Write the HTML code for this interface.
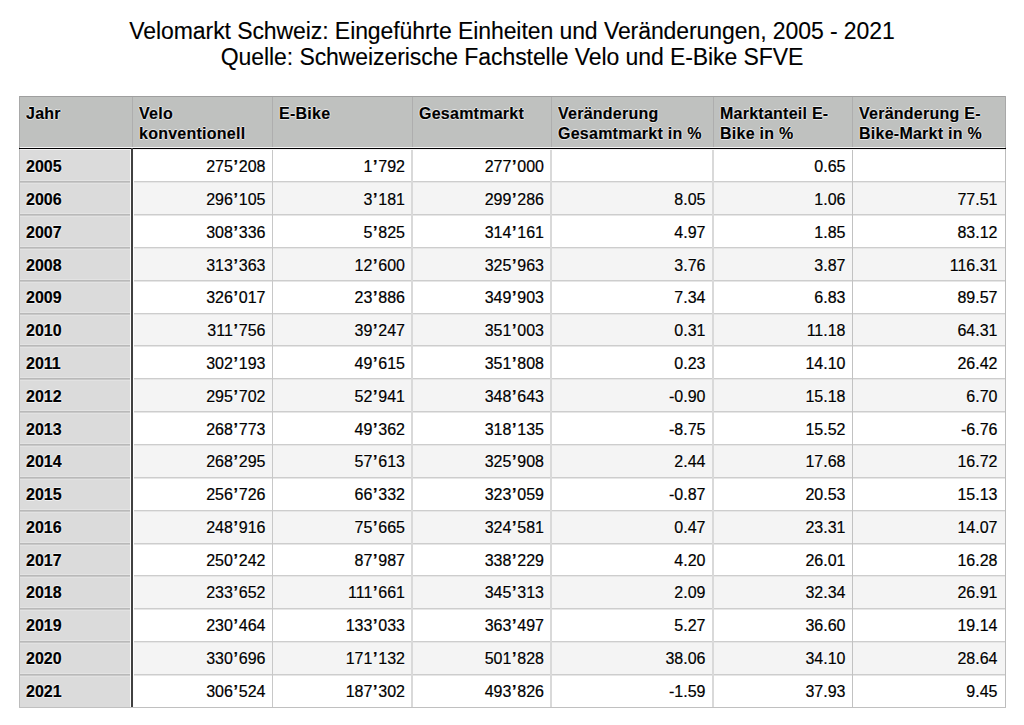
<!DOCTYPE html><html><head><meta charset="utf-8"><title>Velomarkt Schweiz</title><style>
html,body{margin:0;padding:0;background:#fff;}
body{width:1024px;height:725px;overflow:hidden;position:relative;font-family:"Liberation Sans",Arial,Helvetica,sans-serif;color:#000;}
.a{position:absolute;}
.t{position:absolute;white-space:nowrap;font-size:16px;-webkit-text-stroke:0.2px #000;text-shadow:1px 0 0 rgba(255,255,255,.6),-1px 0 0 rgba(255,255,255,.6),0 1px 0 rgba(255,255,255,.6),0 -1px 0 rgba(255,255,255,.6);}
.r{text-align:right;}
.b{font-weight:bold;}
.h{letter-spacing:0.25px;}
.q{margin:0 0.75px;font-weight:bold;}
.title{position:absolute;left:0;width:1024px;text-align:center;font-size:23px;line-height:25px;color:#000;-webkit-text-stroke:0.12px #000;white-space:nowrap;letter-spacing:-0.08px;}
</style></head><body>
<div class="title" style="top:19px">Velomarkt Schweiz: Eingeführte Einheiten und Veränderungen, 2005 - 2021</div>
<div class="title" style="top:45px">Quelle: Schweizerische Fachstelle Velo und E-Bike SFVE</div>
<div class="a" style="left:19px;top:96px;width:987px;height:52px;background:#bfc1bf"></div>
<div class="a" style="left:132px;top:181px;width:873px;height:33px;background:#f4f4f4"></div>
<div class="a" style="left:132px;top:247px;width:873px;height:33px;background:#f4f4f4"></div>
<div class="a" style="left:132px;top:313px;width:873px;height:32px;background:#f4f4f4"></div>
<div class="a" style="left:132px;top:378px;width:873px;height:33px;background:#f4f4f4"></div>
<div class="a" style="left:132px;top:444px;width:873px;height:33px;background:#f4f4f4"></div>
<div class="a" style="left:132px;top:510px;width:873px;height:33px;background:#f4f4f4"></div>
<div class="a" style="left:132px;top:575px;width:873px;height:33px;background:#f4f4f4"></div>
<div class="a" style="left:132px;top:641px;width:873px;height:33px;background:#f4f4f4"></div>
<div class="a" style="left:19px;top:148px;width:113px;height:559px;background:#dbdbdb"></div>
<div class="a" style="left:132px;top:181px;width:873px;height:1px;background:#cdcdcd"></div>
<div class="a" style="left:132px;top:182px;width:873px;height:1px;background:#e6e6e6"></div>
<div class="a" style="left:19px;top:180px;width:113px;height:1px;background:#e3e3e3"></div>
<div class="a" style="left:19px;top:183px;width:113px;height:1px;background:#e2e2e2"></div>
<div class="a" style="left:19px;top:181px;width:113px;height:1px;background:#b9b9b9"></div>
<div class="a" style="left:19px;top:182px;width:113px;height:1px;background:#c8c8c8"></div>
<div class="a" style="left:132px;top:214px;width:873px;height:1px;background:#cdcdcd"></div>
<div class="a" style="left:132px;top:215px;width:873px;height:1px;background:#e6e6e6"></div>
<div class="a" style="left:19px;top:213px;width:113px;height:1px;background:#e3e3e3"></div>
<div class="a" style="left:19px;top:216px;width:113px;height:1px;background:#e2e2e2"></div>
<div class="a" style="left:19px;top:214px;width:113px;height:1px;background:#b9b9b9"></div>
<div class="a" style="left:19px;top:215px;width:113px;height:1px;background:#c8c8c8"></div>
<div class="a" style="left:132px;top:247px;width:873px;height:1px;background:#cdcdcd"></div>
<div class="a" style="left:132px;top:248px;width:873px;height:1px;background:#e6e6e6"></div>
<div class="a" style="left:19px;top:246px;width:113px;height:1px;background:#e3e3e3"></div>
<div class="a" style="left:19px;top:249px;width:113px;height:1px;background:#e2e2e2"></div>
<div class="a" style="left:19px;top:247px;width:113px;height:1px;background:#b9b9b9"></div>
<div class="a" style="left:19px;top:248px;width:113px;height:1px;background:#c8c8c8"></div>
<div class="a" style="left:132px;top:280px;width:873px;height:1px;background:#cdcdcd"></div>
<div class="a" style="left:132px;top:281px;width:873px;height:1px;background:#e6e6e6"></div>
<div class="a" style="left:19px;top:279px;width:113px;height:1px;background:#e3e3e3"></div>
<div class="a" style="left:19px;top:282px;width:113px;height:1px;background:#e2e2e2"></div>
<div class="a" style="left:19px;top:280px;width:113px;height:1px;background:#b9b9b9"></div>
<div class="a" style="left:19px;top:281px;width:113px;height:1px;background:#c8c8c8"></div>
<div class="a" style="left:132px;top:313px;width:873px;height:1px;background:#cdcdcd"></div>
<div class="a" style="left:132px;top:314px;width:873px;height:1px;background:#e6e6e6"></div>
<div class="a" style="left:19px;top:312px;width:113px;height:1px;background:#e3e3e3"></div>
<div class="a" style="left:19px;top:315px;width:113px;height:1px;background:#e2e2e2"></div>
<div class="a" style="left:19px;top:313px;width:113px;height:1px;background:#b9b9b9"></div>
<div class="a" style="left:19px;top:314px;width:113px;height:1px;background:#c8c8c8"></div>
<div class="a" style="left:132px;top:345px;width:873px;height:1px;background:#cdcdcd"></div>
<div class="a" style="left:132px;top:346px;width:873px;height:1px;background:#e6e6e6"></div>
<div class="a" style="left:19px;top:344px;width:113px;height:1px;background:#e3e3e3"></div>
<div class="a" style="left:19px;top:347px;width:113px;height:1px;background:#e2e2e2"></div>
<div class="a" style="left:19px;top:345px;width:113px;height:1px;background:#b9b9b9"></div>
<div class="a" style="left:19px;top:346px;width:113px;height:1px;background:#c8c8c8"></div>
<div class="a" style="left:132px;top:378px;width:873px;height:1px;background:#cdcdcd"></div>
<div class="a" style="left:132px;top:379px;width:873px;height:1px;background:#e6e6e6"></div>
<div class="a" style="left:19px;top:377px;width:113px;height:1px;background:#e3e3e3"></div>
<div class="a" style="left:19px;top:380px;width:113px;height:1px;background:#e2e2e2"></div>
<div class="a" style="left:19px;top:378px;width:113px;height:1px;background:#b9b9b9"></div>
<div class="a" style="left:19px;top:379px;width:113px;height:1px;background:#c8c8c8"></div>
<div class="a" style="left:132px;top:411px;width:873px;height:1px;background:#cdcdcd"></div>
<div class="a" style="left:132px;top:412px;width:873px;height:1px;background:#e6e6e6"></div>
<div class="a" style="left:19px;top:410px;width:113px;height:1px;background:#e3e3e3"></div>
<div class="a" style="left:19px;top:413px;width:113px;height:1px;background:#e2e2e2"></div>
<div class="a" style="left:19px;top:411px;width:113px;height:1px;background:#b9b9b9"></div>
<div class="a" style="left:19px;top:412px;width:113px;height:1px;background:#c8c8c8"></div>
<div class="a" style="left:132px;top:444px;width:873px;height:1px;background:#cdcdcd"></div>
<div class="a" style="left:132px;top:445px;width:873px;height:1px;background:#e6e6e6"></div>
<div class="a" style="left:19px;top:443px;width:113px;height:1px;background:#e3e3e3"></div>
<div class="a" style="left:19px;top:446px;width:113px;height:1px;background:#e2e2e2"></div>
<div class="a" style="left:19px;top:444px;width:113px;height:1px;background:#b9b9b9"></div>
<div class="a" style="left:19px;top:445px;width:113px;height:1px;background:#c8c8c8"></div>
<div class="a" style="left:132px;top:477px;width:873px;height:1px;background:#cdcdcd"></div>
<div class="a" style="left:132px;top:478px;width:873px;height:1px;background:#e6e6e6"></div>
<div class="a" style="left:19px;top:476px;width:113px;height:1px;background:#e3e3e3"></div>
<div class="a" style="left:19px;top:479px;width:113px;height:1px;background:#e2e2e2"></div>
<div class="a" style="left:19px;top:477px;width:113px;height:1px;background:#b9b9b9"></div>
<div class="a" style="left:19px;top:478px;width:113px;height:1px;background:#c8c8c8"></div>
<div class="a" style="left:132px;top:510px;width:873px;height:1px;background:#cdcdcd"></div>
<div class="a" style="left:132px;top:511px;width:873px;height:1px;background:#e6e6e6"></div>
<div class="a" style="left:19px;top:509px;width:113px;height:1px;background:#e3e3e3"></div>
<div class="a" style="left:19px;top:512px;width:113px;height:1px;background:#e2e2e2"></div>
<div class="a" style="left:19px;top:510px;width:113px;height:1px;background:#b9b9b9"></div>
<div class="a" style="left:19px;top:511px;width:113px;height:1px;background:#c8c8c8"></div>
<div class="a" style="left:132px;top:543px;width:873px;height:1px;background:#cdcdcd"></div>
<div class="a" style="left:132px;top:544px;width:873px;height:1px;background:#e6e6e6"></div>
<div class="a" style="left:19px;top:542px;width:113px;height:1px;background:#e3e3e3"></div>
<div class="a" style="left:19px;top:545px;width:113px;height:1px;background:#e2e2e2"></div>
<div class="a" style="left:19px;top:543px;width:113px;height:1px;background:#b9b9b9"></div>
<div class="a" style="left:19px;top:544px;width:113px;height:1px;background:#c8c8c8"></div>
<div class="a" style="left:132px;top:575px;width:873px;height:1px;background:#cdcdcd"></div>
<div class="a" style="left:132px;top:576px;width:873px;height:1px;background:#e6e6e6"></div>
<div class="a" style="left:19px;top:574px;width:113px;height:1px;background:#e3e3e3"></div>
<div class="a" style="left:19px;top:577px;width:113px;height:1px;background:#e2e2e2"></div>
<div class="a" style="left:19px;top:575px;width:113px;height:1px;background:#b9b9b9"></div>
<div class="a" style="left:19px;top:576px;width:113px;height:1px;background:#c8c8c8"></div>
<div class="a" style="left:132px;top:608px;width:873px;height:1px;background:#cdcdcd"></div>
<div class="a" style="left:132px;top:609px;width:873px;height:1px;background:#e6e6e6"></div>
<div class="a" style="left:19px;top:607px;width:113px;height:1px;background:#e3e3e3"></div>
<div class="a" style="left:19px;top:610px;width:113px;height:1px;background:#e2e2e2"></div>
<div class="a" style="left:19px;top:608px;width:113px;height:1px;background:#b9b9b9"></div>
<div class="a" style="left:19px;top:609px;width:113px;height:1px;background:#c8c8c8"></div>
<div class="a" style="left:132px;top:641px;width:873px;height:1px;background:#cdcdcd"></div>
<div class="a" style="left:132px;top:642px;width:873px;height:1px;background:#e6e6e6"></div>
<div class="a" style="left:19px;top:640px;width:113px;height:1px;background:#e3e3e3"></div>
<div class="a" style="left:19px;top:643px;width:113px;height:1px;background:#e2e2e2"></div>
<div class="a" style="left:19px;top:641px;width:113px;height:1px;background:#b9b9b9"></div>
<div class="a" style="left:19px;top:642px;width:113px;height:1px;background:#c8c8c8"></div>
<div class="a" style="left:132px;top:674px;width:873px;height:1px;background:#cdcdcd"></div>
<div class="a" style="left:132px;top:675px;width:873px;height:1px;background:#e6e6e6"></div>
<div class="a" style="left:19px;top:673px;width:113px;height:1px;background:#e3e3e3"></div>
<div class="a" style="left:19px;top:676px;width:113px;height:1px;background:#e2e2e2"></div>
<div class="a" style="left:19px;top:674px;width:113px;height:1px;background:#b9b9b9"></div>
<div class="a" style="left:19px;top:675px;width:113px;height:1px;background:#c8c8c8"></div>
<div class="a" style="left:272px;top:148px;width:1px;height:559px;background:#c8c8c8"></div>
<div class="a" style="left:411px;top:148px;width:2px;height:559px;background:#d9d9d9"></div>
<div class="a" style="left:550px;top:148px;width:2px;height:559px;background:#d9d9d9"></div>
<div class="a" style="left:712px;top:148px;width:2px;height:559px;background:#d9d9d9"></div>
<div class="a" style="left:852px;top:148px;width:1px;height:559px;background:#c2c2c2"></div>
<div class="a" style="left:132px;top:96px;width:1px;height:52px;background:#aeaeae"></div>
<div class="a" style="left:272px;top:96px;width:1px;height:52px;background:#aeaeae"></div>
<div class="a" style="left:412px;top:96px;width:1px;height:52px;background:#aeaeae"></div>
<div class="a" style="left:551px;top:96px;width:1px;height:52px;background:#aeaeae"></div>
<div class="a" style="left:713px;top:96px;width:1px;height:52px;background:#aeaeae"></div>
<div class="a" style="left:852px;top:96px;width:1px;height:52px;background:#aeaeae"></div>
<div class="a" style="left:19px;top:96px;width:987px;height:1px;background:#9f9f9f"></div>
<div class="a" style="left:19px;top:707px;width:987px;height:1px;background:#c0c0c0"></div>
<div class="a" style="left:19px;top:96px;width:1px;height:52px;background:#a8a8a8"></div>
<div class="a" style="left:19px;top:148px;width:1px;height:559px;background:#bcbcbc"></div>
<div class="a" style="left:1005px;top:96px;width:1px;height:52px;background:#a8a8a8"></div>
<div class="a" style="left:1005px;top:148px;width:1px;height:559px;background:#bcbcbc"></div>
<div class="a" style="left:20px;top:147px;width:985px;height:1px;background:#f6f6f6"></div>
<div class="a" style="left:19px;top:148px;width:987px;height:1px;background:#000"></div>
<div class="a" style="left:20px;top:149px;width:985px;height:1px;background:#f4f4f4"></div>
<div class="a" style="left:130px;top:150px;width:1px;height:557px;background:#fafafa"></div>
<div class="a" style="left:131px;top:148px;width:2px;height:559px;background:#404040"></div>
<div class="a" style="left:133px;top:150px;width:1px;height:557px;background:#fdfdfd"></div>
<div class="t b h" style="left:26px;top:104px;line-height:19.5px">Jahr</div>
<div class="t b h" style="left:139px;top:104px;line-height:19.5px">Velo<br>konventionell</div>
<div class="t b h" style="left:279px;top:104px;line-height:19.5px">E-Bike</div>
<div class="t b h" style="left:419px;top:104px;line-height:19.5px">Gesamtmarkt</div>
<div class="t b h" style="left:558px;top:104px;line-height:19.5px">Veränderung<br>Gesamtmarkt in %</div>
<div class="t b h" style="left:720px;top:104px;line-height:19.5px">Marktanteil E-<br>Bike in %</div>
<div class="t b h" style="left:859px;top:104px;line-height:19.5px">Veränderung E-<br>Bike-Markt in %</div>
<div class="t b" style="left:26px;top:151px;line-height:32px">2005</div>
<div class="t r" style="right:758.5px;top:151px;line-height:32px">275<span class="q">’</span>208</div>
<div class="t r" style="right:619px;top:151px;line-height:32px">1<span class="q">’</span>792</div>
<div class="t r" style="right:480px;top:151px;line-height:32px">277<span class="q">’</span>000</div>
<div class="t r" style="right:178.5px;top:151px;line-height:32px">0.65</div>
<div class="t b" style="left:26px;top:184px;line-height:32px">2006</div>
<div class="t r" style="right:758.5px;top:184px;line-height:32px">296<span class="q">’</span>105</div>
<div class="t r" style="right:619px;top:184px;line-height:32px">3<span class="q">’</span>181</div>
<div class="t r" style="right:480px;top:184px;line-height:32px">299<span class="q">’</span>286</div>
<div class="t r" style="right:318.5px;top:184px;line-height:32px">8.05</div>
<div class="t r" style="right:178.5px;top:184px;line-height:32px">1.06</div>
<div class="t r" style="right:26.5px;top:184px;line-height:32px">77.51</div>
<div class="t b" style="left:26px;top:217px;line-height:32px">2007</div>
<div class="t r" style="right:758.5px;top:217px;line-height:32px">308<span class="q">’</span>336</div>
<div class="t r" style="right:619px;top:217px;line-height:32px">5<span class="q">’</span>825</div>
<div class="t r" style="right:480px;top:217px;line-height:32px">314<span class="q">’</span>161</div>
<div class="t r" style="right:318.5px;top:217px;line-height:32px">4.97</div>
<div class="t r" style="right:178.5px;top:217px;line-height:32px">1.85</div>
<div class="t r" style="right:26.5px;top:217px;line-height:32px">83.12</div>
<div class="t b" style="left:26px;top:250px;line-height:32px">2008</div>
<div class="t r" style="right:758.5px;top:250px;line-height:32px">313<span class="q">’</span>363</div>
<div class="t r" style="right:619px;top:250px;line-height:32px">12<span class="q">’</span>600</div>
<div class="t r" style="right:480px;top:250px;line-height:32px">325<span class="q">’</span>963</div>
<div class="t r" style="right:318.5px;top:250px;line-height:32px">3.76</div>
<div class="t r" style="right:178.5px;top:250px;line-height:32px">3.87</div>
<div class="t r" style="right:26.5px;top:250px;line-height:32px">116.31</div>
<div class="t b" style="left:26px;top:282px;line-height:32px">2009</div>
<div class="t r" style="right:758.5px;top:282px;line-height:32px">326<span class="q">’</span>017</div>
<div class="t r" style="right:619px;top:282px;line-height:32px">23<span class="q">’</span>886</div>
<div class="t r" style="right:480px;top:282px;line-height:32px">349<span class="q">’</span>903</div>
<div class="t r" style="right:318.5px;top:282px;line-height:32px">7.34</div>
<div class="t r" style="right:178.5px;top:282px;line-height:32px">6.83</div>
<div class="t r" style="right:26.5px;top:282px;line-height:32px">89.57</div>
<div class="t b" style="left:26px;top:315px;line-height:32px">2010</div>
<div class="t r" style="right:758.5px;top:315px;line-height:32px">311<span class="q">’</span>756</div>
<div class="t r" style="right:619px;top:315px;line-height:32px">39<span class="q">’</span>247</div>
<div class="t r" style="right:480px;top:315px;line-height:32px">351<span class="q">’</span>003</div>
<div class="t r" style="right:318.5px;top:315px;line-height:32px">0.31</div>
<div class="t r" style="right:178.5px;top:315px;line-height:32px">11.18</div>
<div class="t r" style="right:26.5px;top:315px;line-height:32px">64.31</div>
<div class="t b" style="left:26px;top:348px;line-height:32px">2011</div>
<div class="t r" style="right:758.5px;top:348px;line-height:32px">302<span class="q">’</span>193</div>
<div class="t r" style="right:619px;top:348px;line-height:32px">49<span class="q">’</span>615</div>
<div class="t r" style="right:480px;top:348px;line-height:32px">351<span class="q">’</span>808</div>
<div class="t r" style="right:318.5px;top:348px;line-height:32px">0.23</div>
<div class="t r" style="right:178.5px;top:348px;line-height:32px">14.10</div>
<div class="t r" style="right:26.5px;top:348px;line-height:32px">26.42</div>
<div class="t b" style="left:26px;top:381px;line-height:32px">2012</div>
<div class="t r" style="right:758.5px;top:381px;line-height:32px">295<span class="q">’</span>702</div>
<div class="t r" style="right:619px;top:381px;line-height:32px">52<span class="q">’</span>941</div>
<div class="t r" style="right:480px;top:381px;line-height:32px">348<span class="q">’</span>643</div>
<div class="t r" style="right:318.5px;top:381px;line-height:32px">-0.90</div>
<div class="t r" style="right:178.5px;top:381px;line-height:32px">15.18</div>
<div class="t r" style="right:26.5px;top:381px;line-height:32px">6.70</div>
<div class="t b" style="left:26px;top:414px;line-height:32px">2013</div>
<div class="t r" style="right:758.5px;top:414px;line-height:32px">268<span class="q">’</span>773</div>
<div class="t r" style="right:619px;top:414px;line-height:32px">49<span class="q">’</span>362</div>
<div class="t r" style="right:480px;top:414px;line-height:32px">318<span class="q">’</span>135</div>
<div class="t r" style="right:318.5px;top:414px;line-height:32px">-8.75</div>
<div class="t r" style="right:178.5px;top:414px;line-height:32px">15.52</div>
<div class="t r" style="right:26.5px;top:414px;line-height:32px">-6.76</div>
<div class="t b" style="left:26px;top:446px;line-height:32px">2014</div>
<div class="t r" style="right:758.5px;top:446px;line-height:32px">268<span class="q">’</span>295</div>
<div class="t r" style="right:619px;top:446px;line-height:32px">57<span class="q">’</span>613</div>
<div class="t r" style="right:480px;top:446px;line-height:32px">325<span class="q">’</span>908</div>
<div class="t r" style="right:318.5px;top:446px;line-height:32px">2.44</div>
<div class="t r" style="right:178.5px;top:446px;line-height:32px">17.68</div>
<div class="t r" style="right:26.5px;top:446px;line-height:32px">16.72</div>
<div class="t b" style="left:26px;top:479px;line-height:32px">2015</div>
<div class="t r" style="right:758.5px;top:479px;line-height:32px">256<span class="q">’</span>726</div>
<div class="t r" style="right:619px;top:479px;line-height:32px">66<span class="q">’</span>332</div>
<div class="t r" style="right:480px;top:479px;line-height:32px">323<span class="q">’</span>059</div>
<div class="t r" style="right:318.5px;top:479px;line-height:32px">-0.87</div>
<div class="t r" style="right:178.5px;top:479px;line-height:32px">20.53</div>
<div class="t r" style="right:26.5px;top:479px;line-height:32px">15.13</div>
<div class="t b" style="left:26px;top:512px;line-height:32px">2016</div>
<div class="t r" style="right:758.5px;top:512px;line-height:32px">248<span class="q">’</span>916</div>
<div class="t r" style="right:619px;top:512px;line-height:32px">75<span class="q">’</span>665</div>
<div class="t r" style="right:480px;top:512px;line-height:32px">324<span class="q">’</span>581</div>
<div class="t r" style="right:318.5px;top:512px;line-height:32px">0.47</div>
<div class="t r" style="right:178.5px;top:512px;line-height:32px">23.31</div>
<div class="t r" style="right:26.5px;top:512px;line-height:32px">14.07</div>
<div class="t b" style="left:26px;top:545px;line-height:32px">2017</div>
<div class="t r" style="right:758.5px;top:545px;line-height:32px">250<span class="q">’</span>242</div>
<div class="t r" style="right:619px;top:545px;line-height:32px">87<span class="q">’</span>987</div>
<div class="t r" style="right:480px;top:545px;line-height:32px">338<span class="q">’</span>229</div>
<div class="t r" style="right:318.5px;top:545px;line-height:32px">4.20</div>
<div class="t r" style="right:178.5px;top:545px;line-height:32px">26.01</div>
<div class="t r" style="right:26.5px;top:545px;line-height:32px">16.28</div>
<div class="t b" style="left:26px;top:577px;line-height:32px">2018</div>
<div class="t r" style="right:758.5px;top:577px;line-height:32px">233<span class="q">’</span>652</div>
<div class="t r" style="right:619px;top:577px;line-height:32px">111<span class="q">’</span>661</div>
<div class="t r" style="right:480px;top:577px;line-height:32px">345<span class="q">’</span>313</div>
<div class="t r" style="right:318.5px;top:577px;line-height:32px">2.09</div>
<div class="t r" style="right:178.5px;top:577px;line-height:32px">32.34</div>
<div class="t r" style="right:26.5px;top:577px;line-height:32px">26.91</div>
<div class="t b" style="left:26px;top:610px;line-height:32px">2019</div>
<div class="t r" style="right:758.5px;top:610px;line-height:32px">230<span class="q">’</span>464</div>
<div class="t r" style="right:619px;top:610px;line-height:32px">133<span class="q">’</span>033</div>
<div class="t r" style="right:480px;top:610px;line-height:32px">363<span class="q">’</span>497</div>
<div class="t r" style="right:318.5px;top:610px;line-height:32px">5.27</div>
<div class="t r" style="right:178.5px;top:610px;line-height:32px">36.60</div>
<div class="t r" style="right:26.5px;top:610px;line-height:32px">19.14</div>
<div class="t b" style="left:26px;top:643px;line-height:32px">2020</div>
<div class="t r" style="right:758.5px;top:643px;line-height:32px">330<span class="q">’</span>696</div>
<div class="t r" style="right:619px;top:643px;line-height:32px">171<span class="q">’</span>132</div>
<div class="t r" style="right:480px;top:643px;line-height:32px">501<span class="q">’</span>828</div>
<div class="t r" style="right:318.5px;top:643px;line-height:32px">38.06</div>
<div class="t r" style="right:178.5px;top:643px;line-height:32px">34.10</div>
<div class="t r" style="right:26.5px;top:643px;line-height:32px">28.64</div>
<div class="t b" style="left:26px;top:676px;line-height:32px">2021</div>
<div class="t r" style="right:758.5px;top:676px;line-height:32px">306<span class="q">’</span>524</div>
<div class="t r" style="right:619px;top:676px;line-height:32px">187<span class="q">’</span>302</div>
<div class="t r" style="right:480px;top:676px;line-height:32px">493<span class="q">’</span>826</div>
<div class="t r" style="right:318.5px;top:676px;line-height:32px">-1.59</div>
<div class="t r" style="right:178.5px;top:676px;line-height:32px">37.93</div>
<div class="t r" style="right:26.5px;top:676px;line-height:32px">9.45</div>
</body></html>
